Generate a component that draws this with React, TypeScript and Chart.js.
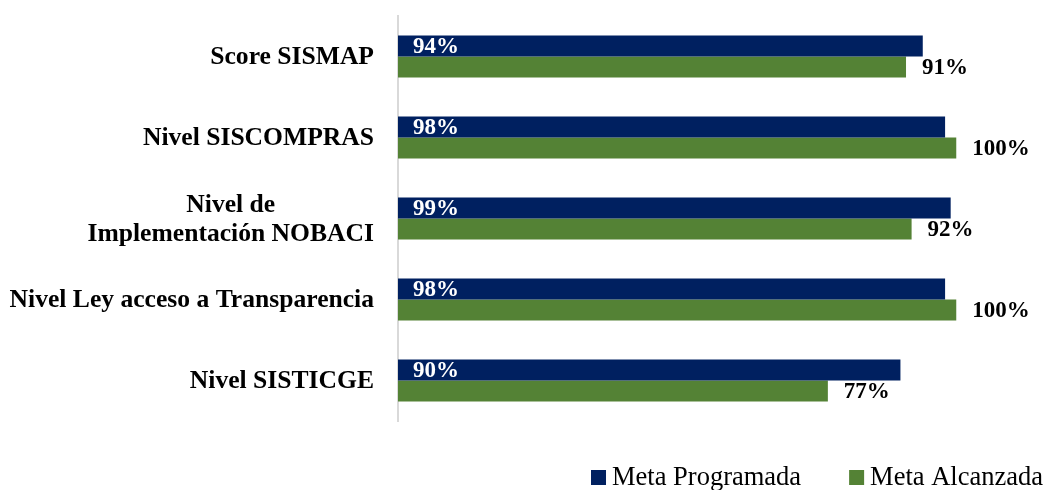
import React, { useEffect, useRef } from "react";
import { Chart, registerables } from "chart.js";

Chart.register(...registerables);

const categories: (string | string[])[] = [
  "Score SISMAP",
  "Nivel SISCOMPRAS",
  ["Nivel de", "Implementación NOBACI"],
  "Nivel Ley acceso a Transparencia",
  "Nivel SISTICGE",
];
const metaProgramada = [94, 98, 99, 98, 90];
const metaAlcanzada = [91, 100, 92, 100, 77];
const seriesNames = ["Meta Programada", "Meta Alcanzada"];
const seriesColors = ["#002060", "#548235"];

const FONT = "'Liberation Serif', 'Times New Roman', serif";

const customDraw = {
  id: "customDraw",
  afterDatasetsDraw(chart: any) {
    const ctx = chart.ctx;
    const area = chart.chartArea;
    ctx.save();
    // data labels
    chart.data.datasets.forEach((ds: any, di: number) => {
      const meta = chart.getDatasetMeta(di);
      meta.data.forEach((bar: any, i: number) => {
        const txt = ds.data[i] + "%";
        ctx.font = `bold 23px ${FONT}`;
        ctx.textBaseline = "middle";
        ctx.textAlign = "left";
        if (di === 0) {
          ctx.fillStyle = "#ffffff";
          ctx.fillText(txt, area.left + 15, bar.y + 1.5);
        } else {
          ctx.fillStyle = "#000000";
          ctx.fillText(txt, bar.x + 16, bar.y + 1);
        }
      });
    });
    // category labels
    const yScale = chart.scales.y;
    const right = area.left - 24;
    ctx.font = `bold 25.6px ${FONT}`;
    ctx.fillStyle = "#000000";
    ctx.textBaseline = "middle";
    categories.forEach((lab, i) => {
      const y = yScale.getPixelForTick(i);
      const lines = Array.isArray(lab) ? lab : [lab];
      const widths = lines.map((l) => ctx.measureText(l).width);
      const blockW = Math.max(...widths);
      const lh = 29;
      lines.forEach((l, j) => {
        const ly = y + (j - (lines.length - 1) / 2) * lh + 1;
        ctx.textAlign = "center";
        ctx.fillText(l, right - blockW / 2, ly);
      });
    });
    // legend
    ctx.font = `26.5px ${FONT}`;
    const tw = seriesNames.map((n) => ctx.measureText(n).width);
    const gap = 48;
    const total = tw.reduce((a, w) => a + w + 15 + 6, 0) + gap;
    let x = 1043 - total;
    seriesNames.forEach((n, i) => {
      ctx.fillStyle = seriesColors[i];
      ctx.fillRect(x, 470, 15, 15);
      ctx.fillStyle = "#000000";
      ctx.textAlign = "left";
      ctx.textBaseline = "alphabetic";
      ctx.fillText(n, x + 21, 484.5);
      x += 15 + 6 + tw[i] + gap;
    });
    ctx.restore();
  },
};

export default function App() {
  const ref = useRef<HTMLCanvasElement | null>(null);
  useEffect(() => {
    if (!ref.current) return;
    const chart = new Chart(ref.current, {
      type: "bar",
      data: {
        labels: categories as any,
        datasets: [
          {
            label: seriesNames[0],
            data: metaProgramada,
            backgroundColor: seriesColors[0],
            barPercentage: 1,
            categoryPercentage: 0.52,
          },
          {
            label: seriesNames[1],
            data: metaAlcanzada,
            backgroundColor: seriesColors[1],
            barPercentage: 1,
            categoryPercentage: 0.52,
          },
        ],
      },
      options: {
        indexAxis: "y",
        animation: false,
        responsive: false,
        maintainAspectRatio: false,
        layout: { padding: { top: 16, bottom: 69, right: 7, left: 0 } },
        plugins: { legend: { display: false }, tooltip: { enabled: false } },
        scales: {
          x: { display: false, min: 0, max: 115 },
          y: {
            grid: { display: false, drawTicks: false },
            border: { display: true, color: "#d9d9d9", width: 2 },
            ticks: { display: false },
            afterFit: (scale: any) => {
              scale.width = 398;
            },
          },
        },
      },
      plugins: [customDraw],
    });
    return () => chart.destroy();
  }, []);
  return (
    <div style={{ position: "fixed", left: 0, top: 0, width: 1047, height: 490, background: "#fff" }}>
      <canvas ref={ref} width={1047} height={490} style={{ width: 1047, height: 490 }} />
    </div>
  );
}
